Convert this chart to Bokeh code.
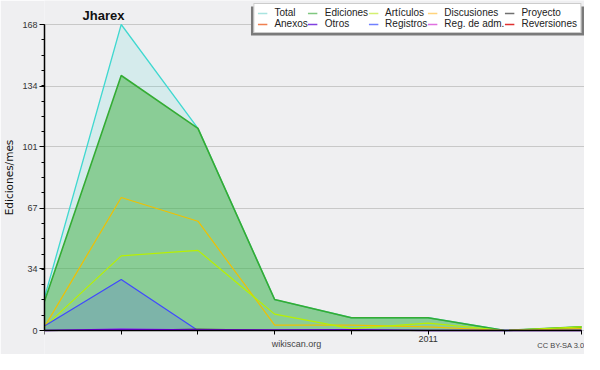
from bokeh.plotting import figure
from bokeh.models import FixedTicker, Legend, LegendItem, Label, Range1d
from bokeh.embed import file_html
from bokeh.resources import INLINE

# ---- data (monthly, Aug 2010 .. Mar 2011) ----
months = [0, 1, 2, 3, 4, 5, 6, 7]
month_labels = {0: "", 1: "", 2: "", 3: "", 4: "", 5: "2011", 6: "", 7: ""}
total = [18, 168, 111, 17, 7, 7, 0, 2]
ediciones = [16, 140, 111, 17, 7, 7, 0, 2]
articulos = [2, 41, 44, 9, 1, 4, 0, 2]
discusiones = [2, 73, 60, 3, 3, 2, 0, 1]
registros = [2.5, 28, 0, 0, 0, 0, 0, 0]
otros = [0, 0.7, 0.3, 0.3, 0.5, 0, 0, 0]
proyecto = [0, 0, 0.8, 0, 0, 0, 0, 0]
y_ticks = [0, 34, 67, 101, 134, 168]
y_minor = [8.4 * i for i in range(21)]
legend_names = ["Total", "Ediciones", "Artículos", "Discusiones", "Proyecto",
                "Anexos", "Otros", "Registros", "Reg. de adm.", "Reversiones"]
legend_colors = ["#a8e4e0", "#80c880", "#d4f070", "#ffd47c", "#707070",
                 "#f08050", "#8040e0", "#7080ff", "#e070e0", "#e03030"]

BG = "#efeff1"
FONT = "Liberation Sans"

# ---- layout geometry (pixels) ----
W, H = 584, 354
LEFT = 40                  # frame left
Y0_PX, Y168_PX = 330, 24   # pixel rows of y=0 and y=168 inside the canvas
X7_PX = 581                # pixel column of the last month
ppu_y = (Y0_PX - Y168_PX) / 168.0
ppu_x = (X7_PX - LEFT) / 7.0
y_start = -(H - Y0_PX) / ppu_y
y_end = 168 + Y168_PX / ppu_y
x_end = 7 + (W - X7_PX) / ppu_x


def px_to_x(px):
    return (px - LEFT) / ppu_x


def py_to_y(py):
    return (Y0_PX - py) / ppu_y


p = figure(width=W, height=H, output_backend="svg", toolbar_location=None,
           x_range=Range1d(0, x_end), y_range=Range1d(y_start, y_end),
           min_border_left=LEFT, min_border_right=0, min_border_top=0, min_border_bottom=0,
           background_fill_color=BG, border_fill_color=BG)
p.outline_line_color = None

# areas and lines
p.varea(x=months, y1=0, y2=total, fill_color="#40d8d0", fill_alpha=0.15)
p.line(months, total, line_color="#40d8d0", line_width=1.3)
p.varea(x=months, y1=0, y2=ediciones, fill_color="#40b040", fill_alpha=0.5)
p.line(months, ediciones, line_color="#34ac34", line_width=1.6)
p.varea(x=months, y1=0, y2=registros, fill_color="#4040ff", fill_alpha=0.18)
p.line(months, discusiones, line_color="#f0c000", line_width=1.2)
p.line(months, articulos, line_color="#b8f000", line_width=1.2)
p.line(months, registros, line_color="#4048ff", line_width=1.2)
p.line(months, proyecto, line_color="#505050", line_width=1.2)
p.line(months, otros, line_color="#8000ff", line_width=1.4)

# grid
p.xgrid.visible = False
p.ygrid.grid_line_color = "#c8c8c8"
p.ygrid.grid_line_width = 1

# axes
p.yaxis.ticker = FixedTicker(ticks=y_ticks, minor_ticks=y_minor)
p.yaxis.bounds = (0, 168)
p.yaxis.axis_label = "Ediciones/mes"
p.yaxis.axis_label_text_font = "DejaVu Sans"
p.yaxis.axis_label_text_font_size = "10.5px"
p.yaxis.axis_label_text_font_style = "normal"
p.yaxis.axis_label_text_color = "#111111"
p.yaxis.axis_label_standoff = 4
p.yaxis.major_label_standoff = 2

p.xaxis.ticker = FixedTicker(ticks=months)
p.xaxis.major_label_overrides = month_labels
p.xaxis.bounds = (0, 7)
p.xaxis.fixed_location = 0
p.xaxis.major_label_standoff = 1

for ax in (p.xaxis[0], p.yaxis[0]):
    ax.axis_line_color = "black"
    ax.axis_line_width = 1.5
    ax.major_tick_line_color = "black"
    ax.minor_tick_line_color = "black"
    ax.major_tick_in = 0
    ax.major_tick_out = 5
    ax.minor_tick_in = 0
    ax.minor_tick_out = 3
    ax.major_label_text_font = FONT
    ax.major_label_text_font_size = "9px"
    ax.major_label_text_color = "#333333"
p.xaxis.minor_tick_line_color = None
p.xaxis.major_tick_out = 4

# legend shadow (estimated legend box, offset by 3 px)
LG_MARGIN = 3
LG_RIGHT, LG_TOP, LG_W, LG_H = W - LG_MARGIN, LG_MARGIN, 336, 29
p.quad(left=[px_to_x(LG_RIGHT - LG_W + 3)], right=[px_to_x(LG_RIGHT + 3)],
       top=[py_to_y(LG_TOP + 3)], bottom=[py_to_y(LG_TOP + LG_H + 3)],
       fill_color="#7a7a7a", fill_alpha=1, line_color=None)

# legend (dummy renderers carry the legend colours)
nan = float("nan")
items = []
for name, col in zip(legend_names, legend_colors):
    r = p.line([nan, nan], [nan, nan], line_color=col, line_width=1.5)
    items.append(LegendItem(label=name, renderers=[r]))
legend = Legend(items=items, orientation="horizontal", ncols=5,
                glyph_width=10, glyph_height=10, label_height=10, label_standoff=7,
                spacing=0, padding=3, margin=LG_MARGIN, location="top_right",
                label_text_font=FONT, label_text_font_size="10px",
                label_text_color="#222222",
                background_fill_color="white", background_fill_alpha=1,
                border_line_color="#999999")
p.add_layout(legend)

# texts (screen units, measured from the frame's bottom-left)
p.add_layout(Label(x=38, y=H - 15, x_units="screen", y_units="screen", text="Jharex",
                   text_font=FONT, text_font_size="13px", text_font_style="bold",
                   text_color="#111111", text_baseline="alphabetic"))
p.add_layout(Label(x=292 - LEFT, y=11, x_units="screen", y_units="screen", text="wikiscan.org",
                   text_font=FONT, text_font_size="9px", text_color="#444444",
                   text_align="center", text_baseline="middle"))
p.add_layout(Label(x=W - 4 - LEFT, y=9, x_units="screen", y_units="screen", text="CC BY-SA 3.0",
                   text_font=FONT, text_font_size="7.5px", text_color="#444444",
                   text_align="right", text_baseline="middle"))

open("out.html", "w").write(file_html(p, INLINE))
